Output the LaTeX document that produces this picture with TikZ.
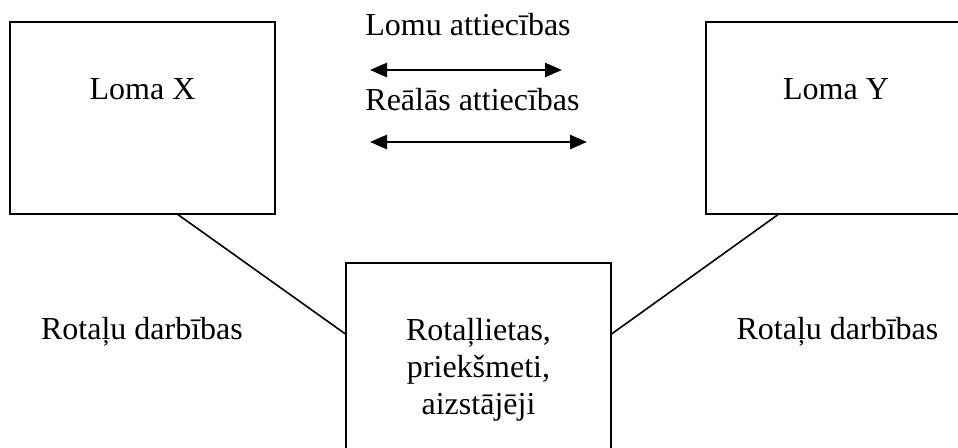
\documentclass[tikz,border=0pt]{standalone}
\usepackage{fontspec}
\setmainfont{Liberation Serif}
\usetikzlibrary{arrows.meta, positioning}

\begin{document}
\begin{tikzpicture}[x=0.5pt, y=-0.5pt,
    every node/.style={font=\fontsize{16}{18.25}\selectfont},
    rolebox/.style={draw, line width=0.8pt, inner sep=0pt, minimum width=132.5pt,
                    text height=39pt, text depth=57pt},
    objbox/.style={draw, line width=0.8pt, minimum width=132.5pt, minimum height=107pt, align=center},
    lbl/.style={anchor=base, inner sep=0pt},
    rel/.style={line width=1.3pt, {Triangle[length=8.5pt,width=7pt]}-{Triangle[length=8.5pt,width=7pt]}},
    link/.style={line width=0.8pt}]
    \useasboundingbox (0,0) rectangle (958,447);

    \node [rolebox] (x) at (142.5,21) [anchor=north] {Loma X};
    \node [rolebox, minimum width=130pt] (y) at (836,21) [anchor=north] {Loma Y};
    \node [objbox] (obj) at (478.5,262) [anchor=north] {Rotaļlietas,\\[0.1pt]priekšmeti,\\[0.1pt]aizstājēji};

    \node [lbl] (lomu) at (468,35) {Lomu attiecības};
    \node [lbl] (real) at (472.5,110) {Reālās attiecības};
    \node [lbl] (dx) at (142,339) {Rotaļu darbības};
    \node [lbl] (dy) at (837.5,339) {Rotaļu darbības};

    \coordinate (l1) at (370,70);
    \coordinate (r1) at (562,70);
    \coordinate (l2) at (370,142);
    \coordinate (r2) at (587,142);

    \draw [rel] (l1) -- (r1);
    \draw [rel] (l2) -- (r2);

    \draw [link] ([xshift=17.75pt]x.south) -- ([yshift=18pt]obj.west);
    \draw [link] ([xshift=-29pt]y.south) -- ([yshift=18pt]obj.east);
\end{tikzpicture}
\end{document}
